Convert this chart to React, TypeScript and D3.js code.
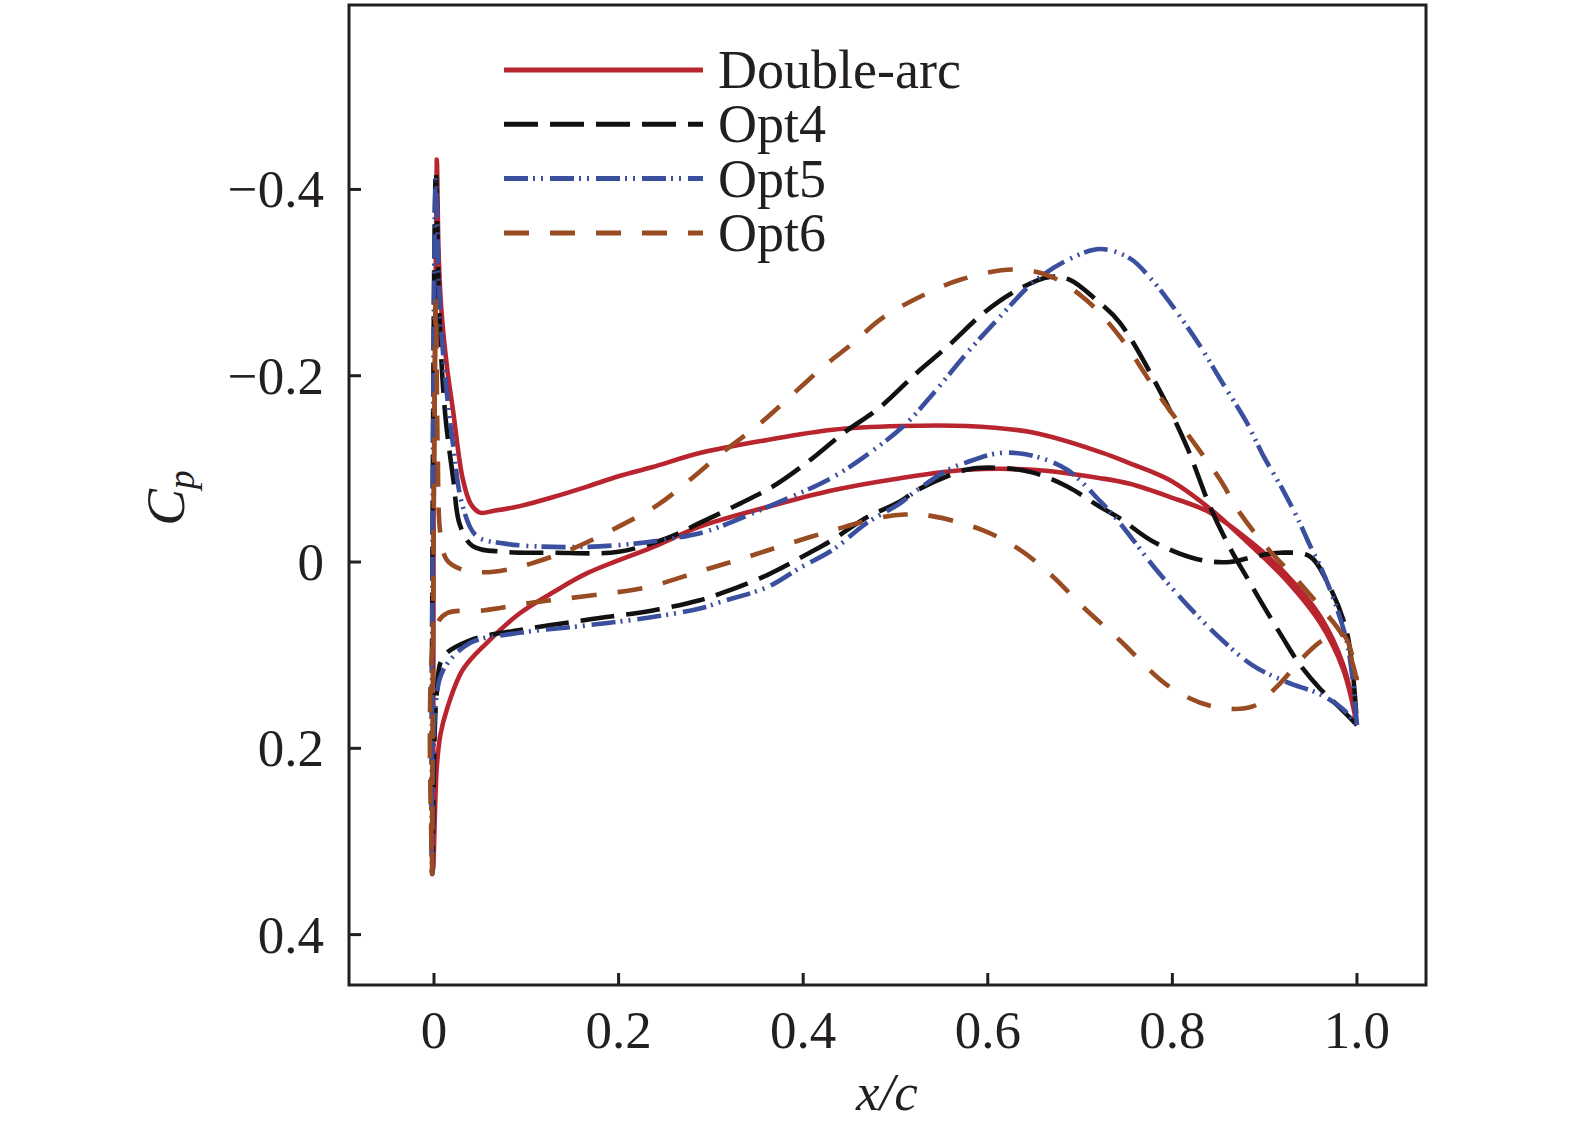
import React from "react";
import * as d3 from "d3";

// Cp distributions: [x/c, Cp]
// each profile = suction side (LE -> TE) and pressure side (LE -> TE)
const doubleArcUpper: [number, number][] = [
  [0.003, -0.432], [0.005, -0.33], [0.008, -0.27], [0.014, -0.21], [0.021, -0.16], [0.031, -0.09],
  [0.04, -0.062], [0.05, -0.053], [0.065, -0.055], [0.093, -0.06], [0.13, -0.07], [0.166, -0.081],
  [0.2, -0.092], [0.237, -0.102], [0.288, -0.117], [0.361, -0.131], [0.432, -0.142], [0.505, -0.146],
  [0.577, -0.146], [0.649, -0.139], [0.722, -0.118], [0.754, -0.106], [0.797, -0.088], [0.841, -0.057],
  [0.887, -0.016], [0.924, 0.02], [0.96, 0.065], [0.985, 0.115], [1.0, 0.175],
];
const doubleArcLower: [number, number][] = [
  [-0.001, 0.33], [0.003, 0.22], [0.007, 0.185], [0.014, 0.158], [0.031, 0.116], [0.057, 0.087],
  [0.093, 0.055], [0.13, 0.032], [0.166, 0.012], [0.237, -0.016], [0.288, -0.038], [0.361, -0.059],
  [0.432, -0.077], [0.505, -0.09], [0.577, -0.099], [0.649, -0.099], [0.722, -0.09], [0.754, -0.084],
  [0.797, -0.07], [0.841, -0.053], [0.887, -0.02], [0.924, 0.014], [0.96, 0.058], [0.985, 0.11], [1.0, 0.175],
];

const opt4Upper: [number, number][] = [
  [0.002, -0.42], [0.006, -0.26], [0.012, -0.16], [0.021, -0.088], [0.028, -0.04], [0.042, -0.017],
  [0.075, -0.011], [0.129, -0.01], [0.2, -0.011], [0.256, -0.027], [0.288, -0.042], [0.332, -0.063],
  [0.367, -0.081], [0.407, -0.109], [0.443, -0.138], [0.483, -0.166], [0.523, -0.203], [0.556, -0.231],
  [0.595, -0.267], [0.632, -0.292], [0.667, -0.306], [0.689, -0.303], [0.718, -0.281], [0.743, -0.257],
  [0.79, -0.177], [0.816, -0.123], [0.841, -0.059], [0.863, -0.014], [0.881, 0.017], [0.898, 0.046],
  [0.92, 0.082], [0.938, 0.11], [0.96, 0.136], [0.98, 0.155], [1.0, 0.175],
];
const opt4Lower: [number, number][] = [
  [-0.002, 0.335], [0.003, 0.14], [0.01, 0.102], [0.039, 0.084], [0.093, 0.073], [0.166, 0.062],
  [0.237, 0.052], [0.288, 0.041], [0.31, 0.034], [0.361, 0.014], [0.407, -0.01], [0.432, -0.024],
  [0.469, -0.048], [0.505, -0.065], [0.523, -0.077], [0.577, -0.099], [0.613, -0.101], [0.649, -0.096],
  [0.686, -0.081], [0.722, -0.059], [0.743, -0.047], [0.779, -0.022], [0.827, -0.003], [0.862, 0.0],
  [0.89, -0.006], [0.917, -0.01], [0.949, -0.006], [0.967, 0.02], [0.989, 0.075], [1.0, 0.175],
];

const opt5Upper: [number, number][] = [
  [0.002, -0.41], [0.006, -0.28], [0.012, -0.2], [0.021, -0.123], [0.031, -0.06], [0.046, -0.028],
  [0.075, -0.02], [0.147, -0.016], [0.22, -0.02], [0.288, -0.031], [0.31, -0.038], [0.361, -0.059],
  [0.432, -0.091], [0.48, -0.123], [0.512, -0.149], [0.541, -0.181], [0.577, -0.224], [0.613, -0.263],
  [0.649, -0.3], [0.686, -0.324], [0.722, -0.336], [0.754, -0.326], [0.776, -0.305], [0.8, -0.275],
  [0.83, -0.232], [0.852, -0.196], [0.881, -0.149], [0.898, -0.115], [0.92, -0.077], [0.938, -0.042],
  [0.949, -0.018], [0.96, 0.004], [0.974, 0.038], [0.99, 0.09], [1.0, 0.175],
];
const opt5Lower: [number, number][] = [
  [-0.002, 0.338], [0.002, 0.15], [0.01, 0.116], [0.039, 0.087], [0.093, 0.076], [0.166, 0.068],
  [0.237, 0.059], [0.288, 0.05], [0.31, 0.043], [0.361, 0.027], [0.397, 0.006], [0.432, -0.013],
  [0.469, -0.042], [0.505, -0.063], [0.523, -0.077], [0.559, -0.1], [0.577, -0.107], [0.613, -0.117],
  [0.649, -0.114], [0.686, -0.099], [0.722, -0.065], [0.743, -0.042], [0.779, 0.004], [0.816, 0.046],
  [0.852, 0.082], [0.887, 0.111], [0.924, 0.129], [0.96, 0.142], [0.985, 0.158], [1.0, 0.175],
];

const opt6Upper: [number, number][] = [
  [0.002, -0.28], [0.004, -0.12], [0.007, -0.03], [0.014, -0.002], [0.03, 0.008], [0.053, 0.011],
  [0.08, 0.008], [0.104, 0.002], [0.147, -0.013], [0.2, -0.038], [0.242, -0.061], [0.277, -0.088],
  [0.313, -0.118], [0.35, -0.146], [0.382, -0.174], [0.421, -0.209], [0.454, -0.235], [0.483, -0.26],
  [0.519, -0.281], [0.57, -0.303], [0.627, -0.314], [0.667, -0.307], [0.707, -0.281], [0.743, -0.242],
  [0.787, -0.177], [0.827, -0.123], [0.852, -0.088], [0.873, -0.053], [0.902, -0.016], [0.935, 0.019],
  [0.96, 0.048], [0.985, 0.08], [1.0, 0.127],
];
const opt6Lower: [number, number][] = [
  [-0.002, 0.335], [0.002, 0.07], [0.014, 0.055], [0.053, 0.052], [0.104, 0.044], [0.161, 0.037],
  [0.231, 0.027], [0.288, 0.01], [0.335, -0.004], [0.382, -0.019], [0.432, -0.034], [0.48, -0.047],
  [0.51, -0.051], [0.541, -0.049], [0.595, -0.034], [0.635, -0.013], [0.671, 0.016], [0.703, 0.048],
  [0.743, 0.084], [0.797, 0.134], [0.844, 0.155], [0.887, 0.155], [0.913, 0.134], [0.942, 0.102],
  [0.963, 0.084], [0.985, 0.078], [1.0, 0.127],
];

const seriesNames = ["Double-arc", "Opt4", "Opt5", "Opt6"];
const seriesColors = ["#b8252f", "#111111", "#3a4f9e", "#994c22"];
const seriesDashes = ["none", "34 12", "24 5 2 6 2 7", "25 21"];
const seriesData = [
  [doubleArcUpper, doubleArcLower],
  [opt4Upper, opt4Lower],
  [opt5Upper, opt5Lower],
  [opt6Upper, opt6Lower],
];

const xTicks = [0, 0.2, 0.4, 0.6, 0.8, 1.0];
const yTicks = [-0.4, -0.2, 0, 0.2, 0.4];

const W = 1575;
const H = 1138;
const plot = { left: 349, top: 5, right: 1426, bottom: 985 };
const font = "'Liberation Serif', 'Times New Roman', serif";
const ink = "#231f20";

export default function App() {
  // x: 0 -> 434px, 1 -> 1357px ; y: 0 -> 562px, 0.2 per 186px, suction up
  const x = d3.scaleLinear().domain([-0.0921, 1.0748]).range([plot.left, plot.right]);
  const y = d3.scaleLinear().domain([-0.598, 0.4541]).range([plot.top, plot.bottom]);

  const line = d3
    .line<[number, number]>()
    .x((d) => x(d[0]))
    .y((d) => y(d[1]))
    .curve(d3.curveCatmullRom.alpha(0.5));

  const fmtX = (v: number) => (v === 0 ? "0" : v.toFixed(1));
  const fmtY = (v: number) => (v === 0 ? "0" : (v < 0 ? "\u2212" : "") + Math.abs(v).toFixed(1));

  const legendX0 = 504;
  const legendX1 = 703;
  const legendY0 = 70;
  const legendStep = 54.3;

  return (
    <div style={{ position: "absolute", left: 0, top: 0 }}>
      <svg width={W} height={H} viewBox={`0 0 ${W} ${H}`} style={{ display: "block", background: "#fff" }}>
        <defs>
          <clipPath id="plot-clip">
            <rect x={plot.left} y={plot.top} width={plot.right - plot.left} height={plot.bottom - plot.top} />
          </clipPath>
        </defs>

        {/* curves */}
        <g clipPath="url(#plot-clip)" fill="none" strokeLinejoin="round">
          {seriesData.map(([upper, lower], i) => (
            <path
              key={seriesNames[i]}
              d={line([...upper].reverse().concat(lower)) ?? ""}
              stroke={seriesColors[i]}
              strokeWidth={4.6}
              strokeDasharray={seriesDashes[i]}
            />
          ))}
        </g>

        {/* frame */}
        <rect
          x={plot.left}
          y={plot.top}
          width={plot.right - plot.left}
          height={plot.bottom - plot.top}
          fill="none"
          stroke={ink}
          strokeWidth={3}
        />

        {/* x ticks */}
        {xTicks.map((t) => (
          <g key={"x" + t}>
            <line x1={x(t)} x2={x(t)} y1={plot.bottom} y2={plot.bottom - 12} stroke={ink} strokeWidth={3} />
            <text x={x(t)} y={1048} textAnchor="middle" fontFamily={font} fontSize={53} fill={ink}>
              {fmtX(t)}
            </text>
          </g>
        ))}

        {/* y ticks */}
        {yTicks.map((t) => (
          <g key={"y" + t}>
            <line x1={plot.left} x2={plot.left + 12} y1={y(t)} y2={y(t)} stroke={ink} strokeWidth={3} />
            <text x={324} y={y(t) + 18} textAnchor="end" fontFamily={font} fontSize={53} fill={ink}>
              {fmtY(t)}
            </text>
          </g>
        ))}

        {/* axis titles */}
        <text x={887} y={1110} textAnchor="middle" fontFamily={font} fontSize={53} fontStyle="italic" fill={ink}>
          x/c
        </text>
        <text
          transform="translate(184,498) rotate(-90)"
          textAnchor="middle"
          fontFamily={font}
          fontSize={55}
          fontStyle="italic"
          fill={ink}
        >
          C
          <tspan fontSize={38} dy={10}>
            p
          </tspan>
        </text>

        {/* legend */}
        {seriesNames.map((name, i) => {
          const ly = legendY0 + i * legendStep;
          return (
            <g key={"lg" + name}>
              <line
                x1={legendX0}
                x2={legendX1}
                y1={ly}
                y2={ly}
                stroke={seriesColors[i]}
                strokeWidth={5}
                strokeDasharray={seriesDashes[i]}
              />
              <text x={718} y={ly + 18} fontFamily={font} fontSize={54} fill={ink}>
                {name}
              </text>
            </g>
          );
        })}
      </svg>
    </div>
  );
}
